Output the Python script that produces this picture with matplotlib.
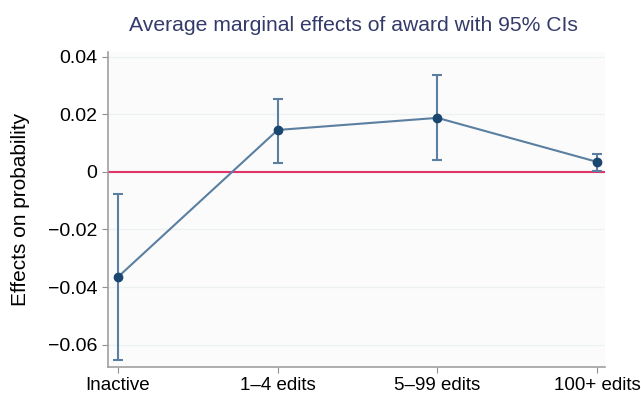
import matplotlib
matplotlib.use('Agg')
from matplotlib import pyplot as plt
from matplotlib.ticker import FuncFormatter
import numpy as np

plt.rcParams['font.family'] = ['Liberation Sans', 'DejaVu Sans']

categories = ['Inactive', '1\u20134 edits', '5\u201399 edits', '100+ edits']
effects = [-0.0365, 0.0146, 0.0188, 0.0035]
ci_low = [-0.0652, 0.0031, 0.0042, 0.0004]
ci_high = [-0.0077, 0.0254, 0.0337, 0.0063]
y_ticks = [-0.06, -0.04, -0.02, 0, 0.02, 0.04]

x = np.arange(len(categories))
eff = np.array(effects)
err = [eff - np.array(ci_low), np.array(ci_high) - eff]

fig = plt.figure(figsize=(6.41, 4.0), dpi=100)
ax = fig.add_axes([0.1685, 0.0825, 0.7755, 0.7875])
ax.set_facecolor('#fbfbfb')

ax.axhline(0, color='#e0336a', lw=1.5, zorder=2)
ax.errorbar(x, eff, yerr=err, fmt='none', ecolor='#5a7fa0', elinewidth=1.5,
            capsize=3.5, capthick=1.5, zorder=3)
ax.plot(x, eff, color='#5a7fa0', lw=1.5, zorder=3)
ax.plot(x, eff, 'o', color='#1a476f', ms=6, zorder=4)

ax.set_xlim(-0.0625, 3.05)
ax.set_ylim(-0.0678, 0.0417)
ax.set_yticks(y_ticks)
ax.yaxis.set_major_formatter(FuncFormatter(
    lambda v, p: '0' if abs(v) < 1e-9 else ('%.2f' % v).replace('-', '\u2212')))
ax.set_xticks(x)
ax.set_xticklabels(categories)
ax.grid(axis='y', color='#edf1f1', lw=1)
ax.set_axisbelow(True)

for s in ['top', 'right']:
    ax.spines[s].set_visible(False)
for s in ['left', 'bottom']:
    ax.spines[s].set_color('#a0a0a0')
    ax.spines[s].set_linewidth(1.2)
ax.tick_params(colors='#909090', labelcolor='black', length=4)
ax.tick_params(axis='y', labelsize=14)
ax.tick_params(axis='x', labelsize=13.5)

ax.set_ylabel('Effects on probability', fontsize=15)
ax.yaxis.set_label_coords(-0.157, 0.5)
fig.text(0.552, 0.9225, 'Average marginal effects of award with 95% CIs',
         ha='center', va='baseline', fontsize=15.2, color='#343b6b')

fig.savefig('out.png', dpi=100)
